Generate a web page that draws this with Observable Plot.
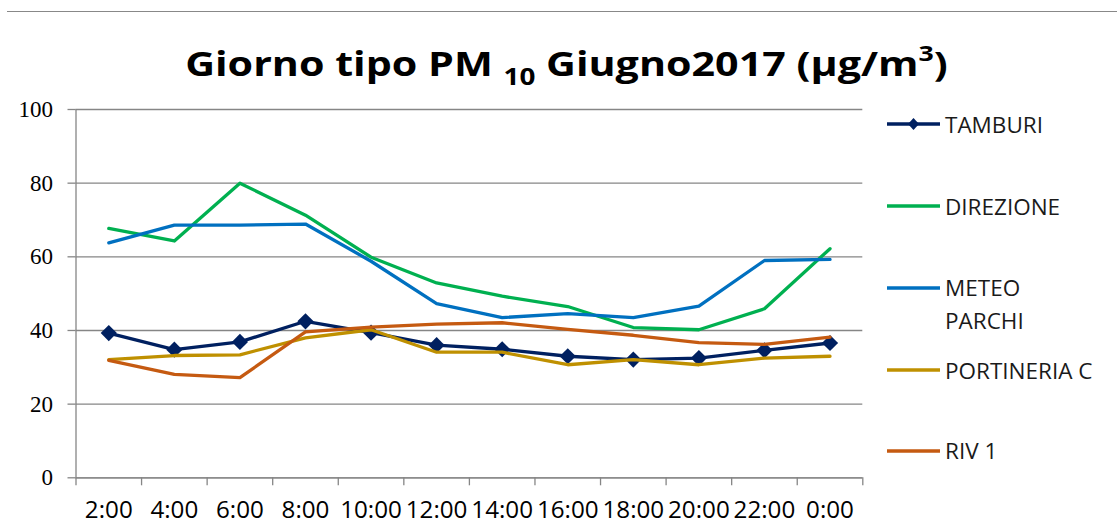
<!DOCTYPE html>
<html>
<head>
<meta charset="utf-8">
<script src="https://cdn.jsdelivr.net/npm/d3@7"></script>
<script src="https://cdn.jsdelivr.net/npm/@observablehq/plot@0.6"></script>
<style>
  html, body { margin: 0; padding: 0; background: #fff; }
  #wrap { position: relative; width: 1117px; height: 529px; overflow: hidden; background: #fff; }
  #topline { position: absolute; left: 7px; right: 0; top: 10.5px; height: 0; border-top: 1.3px solid #888; }
  #chart { position: absolute; left: 0; top: 0; }
  #title { position: absolute; left: 0; top: 0; }
  #legend { position: absolute; left: 0; top: 0; width: 1117px; height: 529px; pointer-events: none; }
  .leg { position: absolute; font-family: "Open Sans", sans-serif; font-size: 22.5px; color: #1a1a1a; white-space: nowrap; line-height: 33px; }
</style>
</head>
<body>
<div id="wrap">
  <div id="topline"></div>
  <div id="chart"></div>
  <svg id="title" width="1117" height="100">
    <text id="ttext" x="566.5" y="76.5" text-anchor="middle" font-family="Open Sans, sans-serif" font-weight="700" font-size="34" fill="#000">Giorno tipo PM <tspan font-size="23" dy="9">10</tspan><tspan dy="-9"> Giugno2017 (µg/m</tspan><tspan font-size="22" dy="-15">3</tspan><tspan dy="15">)</tspan></text>
  </svg>
  <div id="legend"></div>
</div>
<script>
// ---- data ----
const hours = ["2:00","4:00","6:00","8:00","10:00","12:00","14:00","16:00","18:00","20:00","22:00","0:00"];
const seriesNames = ["TAMBURI","DIREZIONE","METEO PARCHI","PORTINERIA C","RIV 1"];
const seriesColors = ["#002060","#00B050","#0070C0","#BF9000","#C55A11"];
const tamburi    = [39.3, 34.8, 36.9, 42.5, 39.4, 36.0, 34.9, 33.0, 32.1, 32.5, 34.6, 36.6];
const direzione  = [67.7, 64.3, 80.0, 71.3, 59.9, 52.9, 49.3, 46.5, 40.8, 40.2, 45.9, 62.2];
const meteo      = [63.8, 68.6, 68.6, 68.9, 58.8, 47.3, 43.5, 44.6, 43.5, 46.6, 59.0, 59.3];
const portineria = [32.1, 33.2, 33.4, 38.0, 40.2, 34.1, 34.1, 30.7, 32.1, 30.7, 32.5, 33.0];
const riv1       = [31.9, 28.1, 27.2, 39.6, 40.9, 41.7, 42.1, 40.3, 38.7, 36.7, 36.2, 38.2];
const yTicks = [0, 20, 40, 60, 80, 100];

const seriesValues = [tamburi, direzione, meteo, portineria, riv1];
const rows = [];
seriesNames.forEach((s, k) => seriesValues[k].forEach((v, i) => rows.push({series: s, i, v})));
const first = rows.filter(d => d.series === seriesNames[0]);
const rest = rows.filter(d => d.series !== seriesNames[0]);

const n = hours.length;
const xDomain = [-0.5, n - 0.5];
const boundaries = d3.range(n + 1).map(i => i - 0.5);
const grey = "#868686";

const plot = Plot.plot({
  width: 880,
  height: 529,
  marginLeft: 75.5,
  marginRight: 17.7,
  marginTop: 109,
  marginBottom: 51.7,
  x: {type: "linear", domain: xDomain, label: null},
  y: {domain: [0, 100], label: null},
  color: {domain: seriesNames, range: seriesColors},
  style: {background: "transparent", overflow: "visible"},
  marks: [
    Plot.gridY(yTicks, {stroke: grey, strokeOpacity: 1, strokeWidth: 1.3}),
    Plot.ruleX([xDomain[0]], {y1: 0, y2: 100, stroke: grey, strokeWidth: 1.3}),
    Plot.ruleY([0], {stroke: grey, strokeWidth: 1.3}),
    Plot.axisY(yTicks, {tickSize: 8, tickPadding: 15, stroke: grey, strokeWidth: 1.3, fill: "#000",
      fontSize: 23, fontFamily: "Liberation Serif, serif", label: null}),
    Plot.axisX(boundaries, {tickSize: 8, tickFormat: () => "", stroke: grey, strokeWidth: 1.3, label: null}),
    Plot.axisX(d3.range(n), {tickSize: 0, tickPadding: 23, tickFormat: i => hours[i], fill: "#000",
      fontSize: 24.2, fontFamily: "Open Sans, sans-serif", label: null}),
    Plot.line(first, {x: "i", y: "v", stroke: "series", strokeWidth: 3.3}),
    Plot.dot(first, {x: "i", y: "v", fill: "series", symbol: "diamond2", r: 7.3, stroke: null}),
    Plot.line(rest, {x: "i", y: "v", z: "series", stroke: "series", strokeWidth: 3.3})
  ]
});
document.getElementById("chart").appendChild(plot);

// legend
const legendPos = [124.3, 206, 287.7, 370, 450.7];
const legend = document.getElementById("legend");
seriesNames.forEach((name, k) => {
  const y = legendPos[k];
  const sw = document.createElementNS("http://www.w3.org/2000/svg", "svg");
  sw.setAttribute("width", 60); sw.setAttribute("height", 20);
  sw.style.position = "absolute"; sw.style.left = "884px"; sw.style.top = (y - 10) + "px";
  let inner = `<line x1="3" x2="56" y1="10" y2="10" stroke="${seriesColors[k]}" stroke-width="3.3"/>`;
  if (k === 0) inner += `<path d="M29.5,4L35,10L29.5,16L24,10Z" fill="${seriesColors[k]}"/>`;
  sw.innerHTML = inner;
  legend.appendChild(sw);
  const parts = name === "METEO PARCHI" ? ["METEO", "PARCHI"] : [name];
  parts.forEach((p, j) => {
    const t = document.createElement("div");
    t.className = "leg";
    t.textContent = p;
    t.style.left = "945px";
    t.style.top = (y - 16.5 + j * 33) + "px";
    legend.appendChild(t);
  });
});

// stretch title to the reference width
const tt = document.getElementById("ttext");
const w = tt.getBBox().width;
const target = 763, cx = 566.5;
tt.setAttribute("transform", `translate(${cx},0) scale(${target / w},1) translate(${-cx},0)`);
</script>
</body>
</html>
